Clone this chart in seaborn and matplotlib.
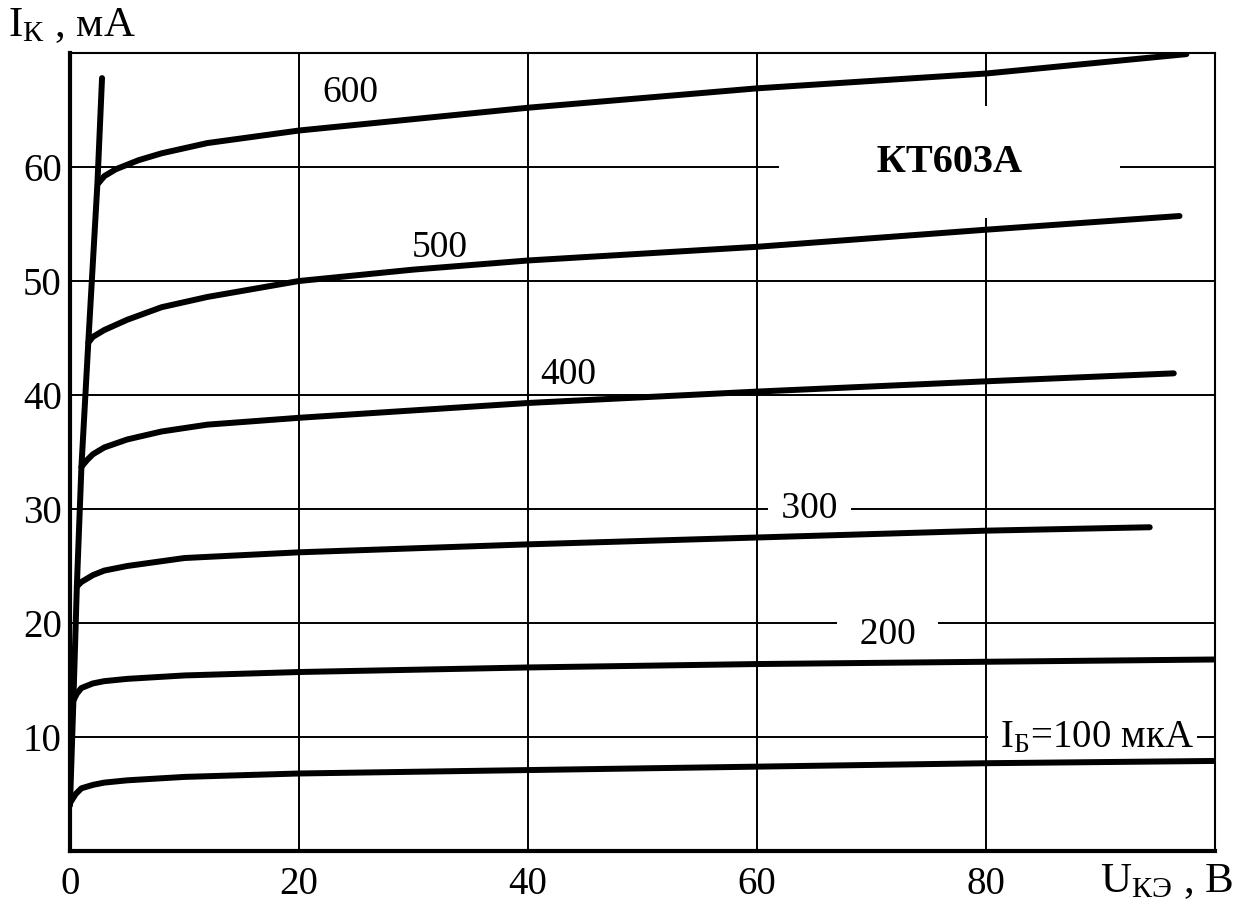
import numpy as np
import pandas as pd
import matplotlib
matplotlib.use('Agg')
import matplotlib.pyplot as plt
import seaborn as sns

# Выходные характеристики КТ603А
u_100 = [0, 0.5, 1, 2, 3, 5, 10, 20, 40, 60, 80, 100]
i_100 = [4.2, 5.0, 5.5, 5.8, 6.0, 6.2, 6.5, 6.8, 7.1, 7.4, 7.7, 7.9]

u_200 = [0.3, 0.6, 1, 2, 3, 5, 10, 20, 40, 60, 80, 100]
i_200 = [13.2, 13.8, 14.3, 14.7, 14.9, 15.1, 15.4, 15.7, 16.1, 16.4, 16.6, 16.8]

u_300 = [0.6, 1, 2, 3, 5, 10, 20, 40, 60, 80, 94.3]
i_300 = [23.2, 23.6, 24.2, 24.6, 25.0, 25.7, 26.2, 26.9, 27.5, 28.1, 28.4]

u_400 = [1.0, 1.5, 2, 3, 5, 8, 12, 20, 40, 60, 80, 96.4]
i_400 = [33.7, 34.3, 34.8, 35.4, 36.1, 36.8, 37.4, 38.0, 39.3, 40.3, 41.2, 41.9]

u_500 = [1.6, 2, 3, 5, 8, 12, 20, 30, 40, 60, 80, 96.9]
i_500 = [44.6, 45.1, 45.7, 46.6, 47.7, 48.6, 50.0, 51.0, 51.8, 53.0, 54.5, 55.7]

u_600 = [2.5, 3, 4, 6, 8, 12, 20, 30, 40, 60, 80, 97.5]
i_600 = [58.6, 59.2, 59.8, 60.6, 61.2, 62.1, 63.2, 64.2, 65.2, 66.9, 68.2, 69.9]

# линия насыщения
u_sat = [0, 0.3, 0.6, 1.0, 1.6, 2.4, 2.8]
i_sat = [4.0, 13.2, 23.2, 33.7, 44.6, 58.6, 67.8]

curve_labels = ['600', '500', '400', ' 300 ', '  200  ']
label_u = [24.5, 32.3, 43.5, 64.6, 71.4]
label_i = [66.5, 52.9, 41.8, 30.0, 19.0]

x_ticks = [0, 20, 40, 60, 80]
y_ticks = [10, 20, 30, 40, 50, 60]

sns.set_style('white')
plt.rcParams['font.family'] = ['Liberation Serif', 'DejaVu Serif']
plt.rcParams['mathtext.fontset'] = 'custom'
plt.rcParams['mathtext.rm'] = 'Liberation Serif'
plt.rcParams['mathtext.it'] = 'Liberation Serif'
plt.rcParams['text.color'] = 'black'
plt.rcParams['xtick.color'] = 'black'
plt.rcParams['ytick.color'] = 'black'

fig = plt.figure(figsize=(12.34, 9.06), dpi=100)
ax = fig.add_axes([0.0567, 0.0607, 0.9279, 0.8808])

curves = [(u_100, i_100), (u_200, i_200), (u_300, i_300),
          (u_400, i_400), (u_500, i_500), (u_600, i_600)]
for u, i in curves:
    df = pd.DataFrame({'U': u, 'I': i})
    sns.lineplot(data=df, x='U', y='I', ax=ax, color='black', lw=4.3,
                 sort=False, zorder=4, legend=False)

df_sat = pd.DataFrame({'U': u_sat, 'I': i_sat})
sns.lineplot(data=df_sat, x='U', y='I', ax=ax, color='black', lw=4.3,
             sort=False, zorder=4, legend=False)

ax.set_xlim(0, 100)
ax.set_ylim(0, 70)
ax.set_xticks(x_ticks)
ax.set_yticks(y_ticks)
ax.grid(True, color='black', lw=1.4, zorder=0)
ax.set_axisbelow(True)
ax.tick_params(length=0, labelsize=28, pad=6)
ax.tick_params(axis='x', pad=11)
ax.set_xlabel('')
ax.set_ylabel('')

for side in ['left', 'bottom']:
    ax.spines[side].set_linewidth(3.0)
for side in ['top', 'right']:
    ax.spines[side].set_linewidth(1.5)
for s in ax.spines.values():
    s.set_color('black')

pads = [3, 3, 1, 3, 3]
for lab, u, i, p in zip(curve_labels, label_u, label_i, pads):
    ax.text(u, i, lab, fontsize=27, ha='center', va='center',
            bbox=dict(facecolor='white', edgecolor='none', pad=p), zorder=3)

ax.text(76.8, 60.4, '      КТ603А      ', fontsize=29, fontweight='bold',
        ha='center', va='center',
        bbox=dict(facecolor='white', edgecolor='none', pad=27), zorder=3)
ax.text(89.3, 9.9, r' I$_{\mathrm{Б}}$=100 мкА', fontsize=28, ha='center',
        va='center', bbox=dict(facecolor='white', edgecolor='none', pad=2),
        zorder=3)

ax.text(-5.4, 72.4, r'I$_{\mathrm{К}}$ , мА', fontsize=31, ha='left',
        va='center', clip_on=False)
ax.text(101.6, -2.7, r'U$_{\mathrm{КЭ}}$ , В', fontsize=31, ha='right',
        va='center', clip_on=False)

fig.savefig('out.png', dpi=100)
